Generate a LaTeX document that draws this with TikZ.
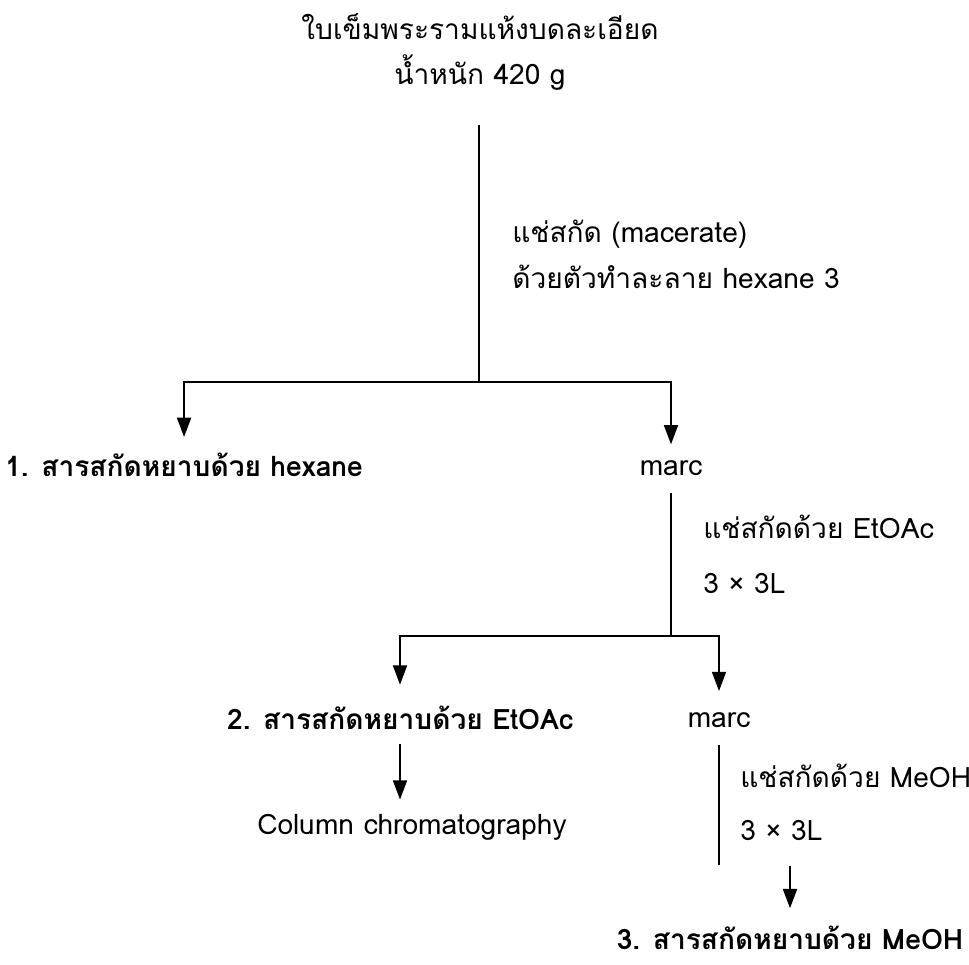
\documentclass[tikz,border=0pt]{standalone}
\usepackage{fontspec}
\setmainfont[Script=Thai]{Loma}
\usetikzlibrary{arrows.meta}

\tikzset{
    flowtext/.style={font=\fontsize{16}{26}\selectfont, inner sep=0pt},
    boldtext/.style={font=\fontsize{16}{26}\selectfont\bfseries, inner sep=0pt},
    flowline/.style={line width=1pt, black},
}

\begin{document}
\begin{tikzpicture}[x=0.02cm, y=-0.02cm, >={Triangle[width=8pt,length=11pt]}]
    \useasboundingbox (0,0) rectangle (969,964);

    % Texts
    \node[flowtext, align=center] (leaves) at (480,52) {ใบเข็มพระรามแห้งบดละเอียด\\น้ำหนัก 420 g};
    \node[flowtext, align=left, anchor=west] (macerate) at (512,254) {แช่สกัด (macerate)\\ด้วยตัวทำละลาย hexane 3};
    \node[boldtext, anchor=west] (hexext) at (5,465) {1. สารสกัดหยาบด้วย hexane};
    \node[flowtext] (marcA) at (671,468) {marc};
    \node[flowtext, anchor=west] (etoacA) at (703,527) {แช่สกัดด้วย EtOAc};
    \node[flowtext, anchor=west] (etoacB) at (703,583) {3 × 3L};
    \node[boldtext] (etoacext) at (400,718) {2. สารสกัดหยาบด้วย EtOAc};
    \node[flowtext] (marcB) at (719,720) {marc};
    \node[flowtext] (column) at (412,827) {Column chromatography};
    \node[flowtext, anchor=west] (meohA) at (740,776) {แช่สกัดด้วย MeOH};
    \node[flowtext, anchor=west] (meohB) at (740,830) {3 × 3L};
    \node[boldtext] (meohext) at (790,938) {3. สารสกัดหยาบด้วย MeOH};

    % Branch points
    \coordinate (top) at (479,125);
    \coordinate (splitA) at (479,382);
    \coordinate (splitB) at (671,636);
    \coordinate (meohend) at (719,865);
    \coordinate (meohtop) at (790,866);

    % Lines
    \draw[flowline] (top) -- (splitA);
    \draw[flowline,->,shorten >=9pt] (splitA) -| (hexext.north);
    \draw[flowline,->,shorten >=9pt] (splitA) -| (marcA.north);
    \draw[flowline,shorten <=10pt] (marcA.south) -- (splitB);
    \draw[flowline,->,shorten >=12pt] (splitB) -| (etoacext.north);
    \draw[flowline,->,shorten >=12pt] (splitB) -| (marcB.north);
    \draw[flowline,->,shorten <=8pt,shorten >=8pt] (etoacext.south) -- (etoacext.south |- column.north);
    \draw[flowline,shorten <=10pt] (marcB.south) -- (meohend);
    \draw[flowline,->,shorten >=10pt] (meohtop) -- (meohtop |- meohext.north);
\end{tikzpicture}
\end{document}
